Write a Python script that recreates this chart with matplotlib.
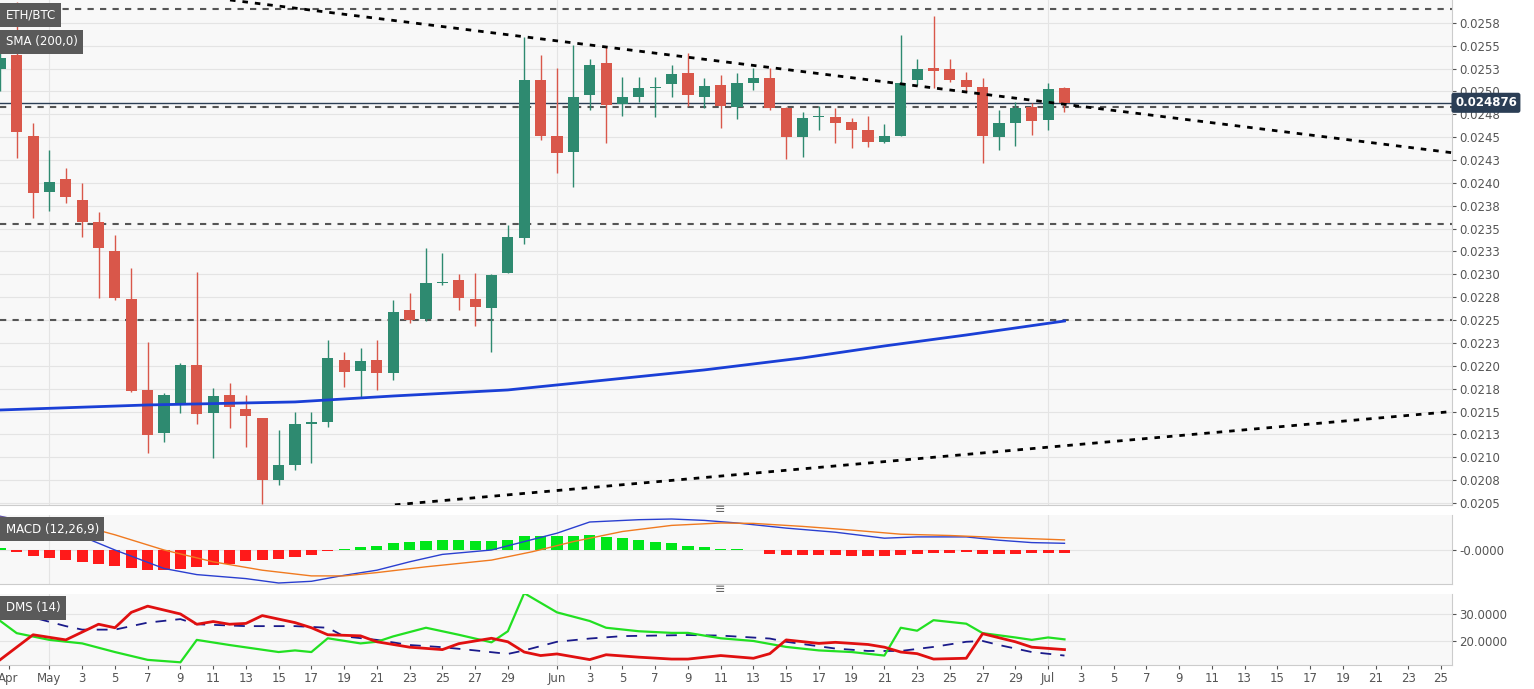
import matplotlib
matplotlib.use("Agg")
import matplotlib.pyplot as plt
import numpy as np

# day index: 0 = May 1
days = list(range(-3, 63))
opens = [0.02525, 0.02540, 0.02451, 0.02390, 0.02404, 0.02381, 0.02357, 0.02326, 0.02273, 0.02174,
         0.02127, 0.02159, 0.02201, 0.02148, 0.02168, 0.02153, 0.02143, 0.02075, 0.02091, 0.02136,
         0.02139, 0.02206, 0.02194, 0.02206, 0.02192, 0.02261, 0.02251, 0.02291, 0.02294, 0.02273,
         0.02263, 0.02302, 0.02340, 0.02512, 0.02451, 0.02434, 0.02496, 0.02531, 0.02486, 0.02494,
         0.02504, 0.02508, 0.02520, 0.02494, 0.02507, 0.02483, 0.02509, 0.02515, 0.02482, 0.02450,
         0.02472, 0.02472, 0.02467, 0.02458, 0.02445, 0.02451, 0.02513, 0.02526, 0.02525, 0.02513,
         0.02505, 0.02450, 0.02466, 0.02483, 0.02469, 0.02504]
closes = [0.02537, 0.02456, 0.02389, 0.02401, 0.02385, 0.02357, 0.02329, 0.02274, 0.02173, 0.02124,
          0.02168, 0.02201, 0.02147, 0.02167, 0.02155, 0.02145, 0.02075, 0.02092, 0.02136, 0.02139,
          0.02209, 0.02193, 0.02205, 0.02192, 0.02259, 0.02250, 0.02291, 0.02292, 0.02274, 0.02264,
          0.02299, 0.02341, 0.02512, 0.02451, 0.02433, 0.02494, 0.02529, 0.02485, 0.02494, 0.02504,
          0.02505, 0.02519, 0.02496, 0.02506, 0.02484, 0.02509, 0.02515, 0.02482, 0.02450, 0.02471,
          0.02473, 0.02466, 0.02458, 0.02445, 0.02451, 0.02509, 0.02525, 0.02522, 0.02513, 0.02505,
          0.02451, 0.02466, 0.02482, 0.02468, 0.02503, 0.024876]
highs = [0.02560, 0.02598, 0.02465, 0.02436, 0.02416, 0.02400, 0.02368, 0.02343, 0.02307, 0.02226,
         0.02170, 0.02203, 0.02303, 0.02176, 0.02181, 0.02168, 0.02143, 0.02130, 0.02150, 0.02150,
         0.02228, 0.02215, 0.02220, 0.02228, 0.02272, 0.02280, 0.02329, 0.02323, 0.02300, 0.02302,
         0.02300, 0.02354, 0.02559, 0.02540, 0.02526, 0.02551, 0.02535, 0.02549, 0.02516, 0.02516,
         0.02516, 0.02529, 0.02542, 0.02515, 0.02518, 0.02520, 0.02526, 0.02526, 0.02483, 0.02478,
         0.02484, 0.02482, 0.02471, 0.02473, 0.02464, 0.02562, 0.02536, 0.02583, 0.02535, 0.02521,
         0.02515, 0.02480, 0.02489, 0.02487, 0.02509, 0.02505]
lows = [0.02500, 0.02427, 0.02362, 0.02369, 0.02378, 0.02341, 0.02274, 0.02272, 0.02171, 0.02105,
        0.02117, 0.02148, 0.02136, 0.02099, 0.02132, 0.02111, 0.02049, 0.02070, 0.02086, 0.02094,
        0.02133, 0.02177, 0.02165, 0.02174, 0.02185, 0.02247, 0.02249, 0.02288, 0.02261, 0.02244,
        0.02215, 0.02301, 0.02333, 0.02447, 0.02411, 0.02396, 0.02480, 0.02444, 0.02473, 0.02489,
        0.02472, 0.02494, 0.02484, 0.02482, 0.02460, 0.02470, 0.02502, 0.02480, 0.02426, 0.02428,
        0.02458, 0.02444, 0.02438, 0.02439, 0.02444, 0.02451, 0.02507, 0.02504, 0.02510, 0.02500,
        0.02422, 0.02436, 0.02440, 0.02452, 0.02458, 0.02477]

sma_days = [-3, 6, 15, 21, 28, 34, 40, 46, 51, 56, 62]
sma_vals = [0.021517, 0.021572, 0.021605, 0.02167, 0.021736, 0.021845, 0.021955, 0.022086, 0.022217, 0.022337, 0.02249]

levels = [0.02590, 0.02483, 0.02355, 0.02250]
last_price = 0.024876
trend_down = ([11.03, 85.67], [0.02600, 0.02433])
trend_up = ([21.1, 85.67], [0.02048, 0.02150])

# MACD (units 1e-5)
hist = [2, -1.5, -6, -8, -10, -12, -13.5, -16, -18, -20, -20, -18.5, -17, -15, -13.5, -11, -10, -8.5, -7, -5,
        -0.7, 1.5, 3, 4.5, 7, 8, 9, 10, 10, 9, 9, 10, 14.5, 14.5, 14.5, 14.5, 15, 13.5, 12, 10,
        8.5, 7, 4.5, 3.5, 1.5, 0.7, 0.2, -3.5, -4.5, -4.5, -5, -5, -5.7, -5.7, -5.7, -4.5,
        -3.5, -2.5, -2.5, -1.7, -3.5, -3.5, -3.5, -2.7, -2.7, -2.7]
macd_days = [-3, 1, 4, 7, 9, 12, 14, 16, 18, 20, 22, 24, 27, 29, 31, 33, 36, 38, 40, 42, 45, 48, 51, 53, 56, 58, 60, 62]
macd_vals = [33.7, 20.2, 0, -18.5, -24.6, -28.6, -33, -31.3, -25.3, -20.2, -11.8, -4.4, 0, 8.4, 16.8, 28, 30.3, 31,
             29.6, 27, 21.9, 17.8, 11.8, 13.1, 13.1, 9.8, 7.4, 6.7]
sig_days = [-3, 1, 4, 7, 10, 13, 16, 18, 20, 23, 27, 29.5, 32, 35, 38, 41, 43, 46, 49, 52, 55, 58, 62]
sig_vals = [32.7, 28.6, 15.2, 0, -11.8, -20.2, -25.9, -25.9, -22.6, -16.8, -10.1, -1.7, 8.4, 18.5, 24.6, 27, 26.6,
            23.6, 19.9, 15.8, 14.5, 12.5, 10.1]

# DMS
pdi_days = [-3, -2, 0, 2, 4, 6, 8, 9, 11, 14, 15, 16, 17, 19, 20, 21, 23, 25, 27, 28, 29, 31, 33, 34, 36, 38, 39,
            41, 43, 45, 47, 49, 51, 52, 53, 54, 56, 57, 59, 60, 61, 62]
pdi_vals = [27.4, 22.9, 20.4, 19.1, 15.9, 13.0, 12.1, 20.4, 18.5, 15.9, 16.5, 15.9, 21.0, 19.1, 19.7, 21.7, 24.9,
            22.3, 19.5, 23.6, 37.7, 30.6, 27.4, 24.9, 23.6, 23.0, 23.0, 21.0, 20.0, 17.8, 16.5, 15.9, 14.6, 24.9,
            23.8, 27.7, 26.4, 22.9, 21.3, 20.4, 21.3, 20.6]
mdi_days = [-3, -2, -1, 1, 3, 4, 5, 6, 8, 9, 10, 11, 12, 13, 15, 16, 17, 19, 20, 22, 24, 25, 27, 28, 29, 30, 31,
            33, 34, 36, 38, 39, 41, 43, 44, 45, 47, 48, 50, 51, 52, 53, 54, 56, 57, 59, 60, 62]
mdi_vals = [13.1, 17.7, 22.3, 20.4, 26.2, 24.9, 30.6, 32.9, 30.0, 26.2, 27.2, 26.2, 26.5, 29.4, 26.8, 24.9, 22.3,
            21.9, 19.7, 17.7, 16.8, 19.0, 21.0, 19.7, 15.9, 14.6, 15.2, 13.1, 14.9, 14.0, 13.3, 13.3, 14.6, 13.6,
            15.3, 20.4, 19.1, 19.5, 18.7, 17.7, 15.9, 15.3, 13.3, 13.6, 22.7, 19.7, 17.7, 16.8]
adx_days = [-3, -1, 1, 2, 4, 6, 8, 9, 12, 15, 17, 18, 20, 22, 24, 26, 28, 29, 31, 33, 35, 39, 41, 44, 45, 48, 50,
            52, 54, 56, 57, 58, 60, 62]
adx_vals = [32.3, 28.7, 25.5, 24.2, 24.2, 26.8, 28.1, 26.2, 25.5, 25.5, 24.9, 21.7, 20.4, 18.5, 17.7, 16.5, 15.2,
            16.5, 19.7, 20.9, 21.8, 22.2, 22.0, 20.9, 19.7, 17.2, 16.3, 16.3, 17.8, 19.7, 20.0, 18.5, 15.9, 14.6]

tick_days = [-2.5, 0] + list(range(2, 30, 2)) + [31] + list(range(33, 60, 2)) + [61] + list(range(63, 86, 2))
tick_labels = ["Apr", "May"] + [str(d + 1) for d in range(2, 30, 2)] + ["Jun"] + \
              [str(d - 30) for d in range(33, 60, 2)] + ["Jul"] + [str(d - 60) for d in range(63, 86, 2)]

GREEN = "#2e8a70"
RED = "#d9574a"
BG = "#f8f8f8"
XLIM = (-3.02, 85.67)

fig = plt.figure(figsize=(15.34, 6.89), dpi=100)
ax = fig.add_axes([0, 1 - 505 / 689, 1452 / 1534, 505 / 689])
ax_m = fig.add_axes([0, 1 - 584 / 689, 1452 / 1534, 69 / 689])
ax_d = fig.add_axes([0, 1 - 665 / 689, 1452 / 1534, 71 / 689])


def style(a):
    a.set_facecolor(BG)
    a.set_xlim(*XLIM)
    a.yaxis.tick_right()
    a.tick_params(axis="y", labelsize=8.5, colors="#555555", length=3, pad=2)
    for s in ("top", "left"):
        a.spines[s].set_visible(False)
    a.spines["right"].set_color("#cccccc")
    a.spines["bottom"].set_color("#cccccc")
    a.grid(axis="y", color="#e4e4e4", lw=0.8)
    for d in (0, 31, 61):
        a.axvline(d, color="#e4e4e4", lw=0.8, zorder=0)
    a.set_axisbelow(True)


# --- price panel
style(ax)
for d, o, h, l, c in zip(days, opens, highs, lows, closes):
    col = GREEN if c >= o else RED
    ax.vlines(d, l, h, color=col, lw=1, zorder=3)
    ax.bar(d, abs(c - o) if abs(c - o) > 0.00001 else 0.00001, bottom=min(o, c), width=0.68, color=col, zorder=4)
ax.plot(sma_days, sma_vals, color="#1a3fd6", lw=2, zorder=5)
for lv in levels:
    ax.axhline(lv, color="#555555", lw=1.5, ls=(0, (3, 3)), zorder=2)
ax.axhline(last_price, color="#2b3e55", lw=1, zorder=2)
ax.plot(*trend_down, color="black", lw=2, ls=(0, (2, 2.5)), zorder=6)
ax.plot(*trend_up, color="black", lw=2, ls=(0, (2, 2.5)), zorder=6)
ax.set_ylim(0.020478, 0.0260)
yt = np.arange(0.0205, 0.02576, 0.00025)
ax.set_yticks(yt)
ax.set_yticklabels([f"{v + 1e-9:.4f}" for v in yt])
ax.set_xticks([])
frac = (last_price - 0.020478) / (0.0260 - 0.020478)
fig.text(1455 / 1534, 1 - 505 / 689 * (1 - frac), f"{last_price:.6f}", ha="left", va="center",
         color="white", fontsize=8.5, fontweight="bold", zorder=20,
         bbox=dict(boxstyle="round,pad=0.3,rounding_size=0.2", fc="#2b3e55", ec="none"))

# --- MACD
style(ax_m)
ax_m.bar(days, hist, width=0.68, color=["#00e61a" if h >= 0 else "#ff1a1a" for h in hist], zorder=3)
ax_m.plot(macd_days, macd_vals, color="#2a3fd0", lw=1, zorder=4)
ax_m.plot(sig_days, sig_vals, color="#f07a20", lw=1, zorder=4)
ax_m.set_ylim(-34, 35)
ax_m.set_yticks([0])
ax_m.set_yticklabels(["-0.0000"])
ax_m.set_xticks([])

# --- DMS
style(ax_d)
ax_d.plot(pdi_days, pdi_vals, color="#22e022", lw=1.6, zorder=4)
ax_d.plot(mdi_days, mdi_vals, color="#e01010", lw=2, zorder=4)
ax_d.plot(adx_days, adx_vals, color="#1a1a8a", lw=1.3, ls=(0, (6, 5)), zorder=3)
ax_d.set_ylim(11.1, 37.4)
ax_d.set_yticks([20, 30])
ax_d.set_yticklabels(["20.0000", "30.0000"])
ax_d.set_xticks(tick_days)
ax_d.set_xticklabels(tick_labels)
ax_d.tick_params(axis="x", labelsize=8.5, colors="#555555", length=3, pad=2)


def tag(a, y, text):
    a.text(0.004, y, text, transform=a.transAxes, ha="left", va="center", color="white", fontsize=8.5,
           bbox=dict(boxstyle="square,pad=0.45", fc="#5a5a5a", ec="none"), zorder=10)


tag(ax, 1 - 15 / 505, "ETH/BTC")
tag(ax, 1 - 42 / 505, "SMA (200,0)")
tag(ax_m, 1 - 14 / 69, "MACD (12,26,9)")
tag(ax_d, 1 - 14 / 71, "DMS (14)")
for yy in (510, 589):
    fig.text(720 / 1534, 1 - yy / 689, "≡", ha="center", va="center", fontsize=9, color="#666666")

fig.savefig("out.png", dpi=100)
